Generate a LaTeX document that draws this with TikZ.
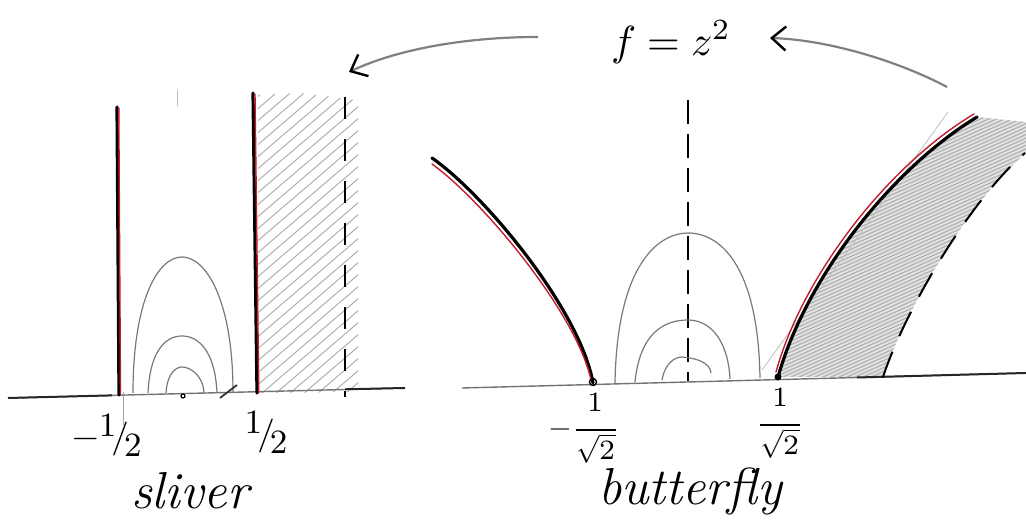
\documentclass[tikz,border=0pt]{standalone}
\usepackage{fontspec}
\usepackage{unicode-math}
\usetikzlibrary{arrows.meta}
\definecolor{redline}{RGB}{196,28,44}
\definecolor{pencil}{RGB}{120,120,120}
\definecolor{shadegray}{RGB}{175,175,175}
\newcommand{\slfrac}[2]{\raisebox{.32em}{#1}\kern-.14em/\kern-.14em\raisebox{-.26em}{#2}}
\newcommand{\rootfrac}{\dfrac{\raisebox{1.6pt}{$1$}}{\sqrt{2}}}
\begin{document}
\begin{tikzpicture}[x=0.25pt,y=-0.25pt,
  boundary/.style={line width=0.8pt,black,line cap=round},
  redover/.style={line width=0.35pt,redline,line cap=round},
  contour/.style={line width=0.3pt,pencil},
  axisline/.style={line width=0.35pt,black!55},
  axisdark/.style={line width=0.5pt,black!85},
  dashleft/.style={line width=0.5pt,black,dash pattern=on 5.5pt off 5pt},
  dashmid/.style={line width=0.45pt,black,dash pattern=on 6pt off 2.5pt},
  dashright/.style={line width=0.5pt,black,dash pattern=on 6.75pt off 4.25pt},
  hatch/.style={line width=0.25pt,shadegray},
  hatchdense/.style={line width=0.3pt,black!30},
  faint/.style={line width=0.2pt,black!25},
  maparrow/.style={line width=0.55pt,black!50,-{Straight Barb[length=3.5pt,width=6pt,color=black,line width=0.6pt]}},
  fraclbl/.style={inner sep=0pt,font=\fontsize{8.5}{10}\selectfont},
  rootlbl/.style={inner sep=0pt,font=\fontsize{7}{9}\selectfont},
  word/.style={inner sep=0pt,anchor=base,font=\fontsize{13}{15}\selectfont\itshape},
  title/.style={inner sep=0pt,font=\fontsize{10.5}{13}\selectfont}]
\useasboundingbox (0,0) rectangle (1026,520);

% ================= left panel: sliver =================
\begin{scope}
  \clip (258,95) -- (300,93) -- (358,100) -- (358,392) -- (258,393) -- cycle;
  \foreach \x in {-110,-96,...,370} { \draw[hatch] (\x,400) -- ++(420,-360); }
\end{scope}
\draw[axisline] (8,398) -- (405,388);
\draw[axisdark] (8,398) -- (112,395.4);
\draw[axisdark] (345,389.3) -- (405,388);
\draw[faint] (177,90) -- (177,106);
\draw[line width=0.2pt,black!35] (123,392) -- (123,425);
% contours
\draw[contour] (133,393) .. controls (133,300) and (158,257) .. (182,257) .. controls (206,257) and (233,300) .. (233,393);
\draw[contour] (148,393) .. controls (150,350) and (166,336) .. (182,336) .. controls (198,336) and (215,350) .. (217,393);
\draw[contour] (166,393) .. controls (167,375) and (175,367) .. (182,367) .. controls (190,367) and (203,375) .. (204,393);
\draw[line width=0.3pt] (183,396) circle (2);
\draw[line width=0.45pt,black!80] (220,398) -- (237,385);
% boundary lines
\draw[boundary] (117,107) -- (119,395);
\draw[redover] (118.8,108) -- (120.5,394);
\draw[boundary] (253,93) -- (257,393);
\draw[redover] (255,94) -- (258.8,393);
\draw[dashleft] (345,97) -- (345,397);

% ================= right panel: butterfly =================
\path[fill=black!11] (778,377) .. controls (805,280) and (890,170) .. (977,117) -- (1026,122) -- (1026,153)
   .. controls (970,200) and (905,310) .. (883,377) -- cycle;
\begin{scope}
  \clip (778,377) .. controls (805,280) and (890,170) .. (977,117) -- (1026,122) -- (1026,153)
   .. controls (970,200) and (905,310) .. (883,377) -- cycle;
  \foreach \x in {340,348,...,846} { \draw[hatchdense] (\x,400) -- ++(700,-315); }
\end{scope}
\draw[axisline] (462,388) -- (1026,373);
\draw[axisdark] (857,377.5) -- (1026,373);
\draw[faint] (762,370) -- (948,112);
\draw[dashmid] (688,100) -- (688,381);
% contours
\draw[contour] (615,383) .. controls (617,262) and (660,233) .. (688,233) .. controls (718,233) and (758,262) .. (760,378);
\draw[contour] (635,382) .. controls (640,332) and (665,320) .. (688,320) .. controls (710,320) and (728,340) .. (730,379);
\draw[contour] (662,380) .. controls (665,363) and (675,357) .. (682,357) .. controls (695,358) and (710,362) .. (711,373);
% image of the boundary lines
\draw[boundary] (432,158) .. controls (485,195) and (580,310) .. (593,383);
\draw[redover] (432,164) .. controls (482,200) and (576,312) .. (591,380);
\draw[boundary] (778,377) .. controls (805,280) and (890,170) .. (977,117);
\draw[redover] (776,372) .. controls (802,277) and (887,166) .. (974,114);
\draw[dashright] (883,377) .. controls (905,310) and (970,200) .. (1025,153);
\draw[line width=0.35pt] (593,382) circle (3.5);
\fill (778,377) circle (3.5);

% ================= map and arrows =================
\node[title] (fz) at (671,42) {$f = z^2$};
\coordinate (la0) at (538,37);
\coordinate (la1) at (349,72);
\coordinate (ra0) at (947,87);
\coordinate (ra1) at (770,38);
\draw[maparrow] (la0) .. controls (470,37) and (400,48) .. (la1);
\draw[maparrow] (ra0) .. controls (900,62) and (830,40) .. (ra1);

% ================= labels =================
\node[fraclbl] (mhalf) at (107,435) {$-$\slfrac{1}{2}};
\node[fraclbl] (phalf) at (266,432) {\slfrac{1}{2}};
\node[rootlbl] (mroot) at (585,428) {$-\rootfrac$};
\node[rootlbl] (proot) at (780,423) {$\rootfrac$};
\node[word] (sliver) at (190,509) {sliver};
\node[word] (butterfly) at (690,505) {butterfly};
\end{tikzpicture}
\end{document}
